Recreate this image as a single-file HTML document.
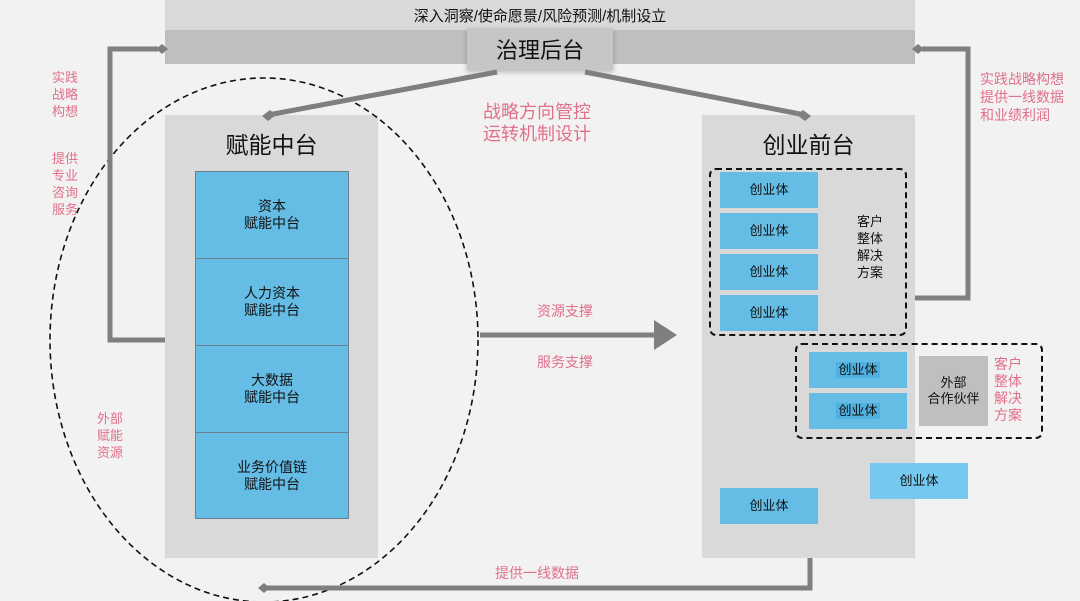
<!DOCTYPE html>
<html><head><meta charset="utf-8"><style>
body{margin:0;width:1080px;height:601px;background:#f2f2f2;position:relative;overflow:hidden;font-family:"Liberation Sans","Noto Sans CJK SC",sans-serif;}
div{position:absolute;box-sizing:border-box;}
.c{display:flex;align-items:center;justify-content:center;text-align:center;}
.b{background:#65bde6;font-size:13px;color:#111;line-height:16px;}
.bb{background:#65bde6;border:1px solid #6a7f8c;font-size:14px;color:#111;line-height:17px;}
.p{color:#e0708a;font-size:13px;line-height:17px;}
</style></head><body>
<div class="c" style="left:165px;top:0;width:750px;height:30px;background:#d9d9d9;font-size:15px;color:#111;">深入洞察/使命愿景/风险预测/机制设立</div>
<div style="left:165px;top:30px;width:750px;height:34px;background:#bfbfbf;"></div>
<div class="c" style="left:467px;top:28px;width:146px;height:42px;background:#c6c6c6;box-shadow:0 2px 5px rgba(0,0,0,.25);font-size:22px;color:#111;">治理后台</div>

<div style="left:165px;top:115px;width:213px;height:443px;background:#d9d9d9;"></div>
<div class="c" style="left:165px;top:125px;width:213px;height:36px;font-size:23px;color:#111;">赋能中台</div>
<div class="c bb" style="left:195px;top:171px;width:154px;height:88px;">资本<br>赋能中台</div>
<div class="c bb" style="left:195px;top:258px;width:154px;height:88px;">人力资本<br>赋能中台</div>
<div class="c bb" style="left:195px;top:345px;width:154px;height:88px;">大数据<br>赋能中台</div>
<div class="c bb" style="left:195px;top:432px;width:154px;height:87px;">业务价值链<br>赋能中台</div>

<div style="left:702px;top:115px;width:213px;height:443px;background:#d9d9d9;"></div>
<div class="c" style="left:702px;top:125px;width:213px;height:36px;font-size:23px;color:#111;">创业前台</div>
<div style="left:709px;top:168px;width:198px;height:168px;border:2px dashed #111;border-radius:7px;"></div>
<div class="c b" style="left:720px;top:172px;width:98px;height:36px;">创业体</div>
<div class="c b" style="left:720px;top:213px;width:98px;height:36px;">创业体</div>
<div class="c b" style="left:720px;top:254px;width:98px;height:36px;">创业体</div>
<div class="c b" style="left:720px;top:295px;width:98px;height:36px;">创业体</div>
<div class="c" style="left:845px;top:212px;width:50px;height:70px;font-size:13px;line-height:17px;color:#111;">客户<br>整体<br>解决<br>方案</div>

<div style="left:795px;top:343px;width:248px;height:96px;border:2px dashed #111;border-radius:7px;"></div>
<div class="c b" style="left:809px;top:352px;width:98px;height:36px;"><span style="background:#4fb1e0;padding:0 2px;">创业体</span></div>
<div class="c b" style="left:809px;top:393px;width:98px;height:36px;"><span style="background:#4fb1e0;padding:0 2px;">创业体</span></div>
<div class="c" style="left:919px;top:356px;width:69px;height:70px;background:#bfbfbf;font-size:13px;line-height:16px;color:#111;">外部<br>合作伙伴</div>
<div class="p" style="left:994px;top:356px;font-size:14px;">客户<br>整体<br>解决<br>方案</div>
<div class="c b" style="left:870px;top:463px;width:98px;height:36px;background:#75c8ee;">创业体</div>
<div class="c b" style="left:720px;top:488px;width:98px;height:36px;">创业体</div>

<svg style="position:absolute;left:0;top:0" width="1080" height="601">
<ellipse cx="264" cy="340" rx="214" ry="262" fill="none" stroke="#111" stroke-width="1.6" stroke-dasharray="6,4"/>
<g stroke="#7f7f7f" stroke-width="5" fill="none">
<line x1="497" y1="72" x2="268" y2="115"/>
<line x1="585" y1="72" x2="805" y2="115"/>
<polyline points="165,340 110,340 110,49 158,49"/>
<polyline points="915,298 968,298 968,49 922,49"/>
<polyline points="810,558 810,588 267,588"/>
<line x1="480" y1="335" x2="660" y2="335"/>
</g>
<g fill="#7f7f7f">
<polygon points="262,116 270,110 276,115 268,121"/>
<polygon points="811,116 803,110 797,115 805,121"/>
<polygon points="156,49 162,44 168,49 162,54"/>
<polygon points="924,49 918,44 912,49 918,54"/>
<polygon points="258,588 264,583 270,588 264,593"/>
<polygon points="654,320 677,335 654,350"/>
</g>
</svg>

<div class="p" style="left:52px;top:69px;">实践<br>战略<br>构想</div>
<div class="p" style="left:52px;top:150px;">提供<br>专业<br>咨询<br>服务</div>
<div class="p" style="left:97px;top:410px;">外部<br>赋能<br>资源</div>
<div class="p" style="left:483px;top:101px;font-size:18px;line-height:22px;">战略方向管控<br>运转机制设计</div>
<div class="p" style="left:980px;top:70px;font-size:14px;line-height:18px;">实践战略构想<br>提供一线数据<br>和业绩利润</div>
<div class="p" style="left:537px;top:303px;font-size:14px;">资源支撑</div>
<div class="p" style="left:537px;top:354px;font-size:14px;">服务支撑</div>
<div class="p" style="left:495px;top:565px;font-size:14px;">提供一线数据</div>
</body></html>
